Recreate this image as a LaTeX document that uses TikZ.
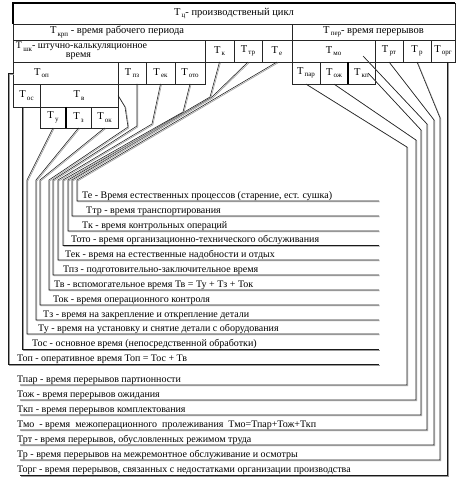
\documentclass[tikz,border=0pt]{standalone}
\usepackage{fontspec}
\setmainfont{Liberation Serif}
\usetikzlibrary{calc}
\newcommand\Tb[1]{Т\raisebox{-0.5ex}{\fontsize{7}{7}\selectfont\,#1}}
\newcommand\bx[6]{\node[box, minimum width={(#4-#2)*1pt}, minimum height={(#5-#3)*1pt}] (#1) at ({(#2+#4)/2},{(#3+#5)/2}) {#6};}
\begin{document}
\begin{tikzpicture}[x=1pt,y=-1pt,
  box/.style={draw=black!85, line width=0.6pt, rectangle, inner sep=0pt, outer sep=0pt, font=\fontsize{10.5}{10}\selectfont, align=center},
  conn/.style={draw=black!90, line width=0.55pt, preaction={draw=black!40, line width=0.55pt, transform canvas={shift={(0.9pt,-0.9pt)}}}},
  lab/.style={anchor=base west, inner sep=0pt, font=\fontsize{10}{10}\selectfont}]
\useasboundingbox (0,0) rectangle (456,481);
% ---- boxes ----
\bx{tc}{13}{3}{455}{24}{\Tb{ц}- производственый цикл}
\draw[black, line width=1.6pt] (tc.south west) -- (tc.north west) -- (tc.north east);
\bx{krp}{13}{24}{292}{40}{\makebox[275pt][l]{\hspace*{35pt}\Tb{крп} - время рабочего периода}}
\bx{per}{292}{24}{455}{40}{\Tb{пер}- время перерывов}
\bx{shk}{13}{40}{205}{62}{\parbox{186pt}{\fontsize{10}{8.5}\selectfont\Tb{шк}- штучно-калькуляционное\\\hspace*{50pt}время}}
\bx{k}{205}{40}{234}{62}{\Tb{к}}
\bx{tr}{234}{40}{262}{62}{\Tb{тр}}
\bx{e}{262}{40}{292}{62}{\Tb{е}}
\bx{mo}{292}{40}{375}{62}{\Tb{мо}}
\bx{rt}{375}{40}{403}{62}{\Tb{рт}}
\bx{rp}{403}{40}{431}{62}{\Tb{р}}
\bx{org}{431}{40}{455}{62}{\Tb{орг}}
\bx{op}{13}{62}{118}{84}{\makebox[101pt][l]{\hspace*{19pt}\Tb{оп}}}
\bx{pz}{118}{62}{146}{84}{\Tb{пз}}
\bx{ek}{146}{62}{175}{84}{\Tb{ек}}
\bx{oto}{175}{62}{205}{84}{\Tb{ото}}
\bx{par}{292}{62}{320}{84}{\Tb{пар}}
\bx{oj}{320}{62}{348}{84}{\Tb{ож}}
\bx{kp}{348}{62}{375}{84}{\Tb{кп}}
\bx{os}{13}{84}{40}{107}{\Tb{ос}}
\bx{v}{40}{84}{118}{107}{\Tb{в}}
\bx{u}{40}{107}{66}{128}{\Tb{у}}
\bx{z}{66}{107}{91}{128}{\Tb{з}}
\bx{ok}{91}{107}{118}{128}{\Tb{ок}}
\draw[black, line width=1.3pt] (u.north east) -- (u.south east);
\draw[black, line width=1.3pt] (oj.north east) -- (oj.south east);
% ---- left labels ----
\foreach \n/\xv/\yu/\xt/\txt in {
  le/77/201/82/{Те - Время естественных процессов (старение, ест. сушка)},
  ltr/72/216/86/{Ттр - время транспортирования},
  lk/68/231/82/{Тк - время контрольных операций},
  loto/63/245.5/71/{Тото - время организационно-технического обслуживания},
  lek/58/260/65/{Тек - время на естественные надобности и отдых},
  lpz/53/275/63/{Тпз - подготовительно-заключительное время},
  lv/49/290/54/{Тв - вспомогательное время Тв = Ту + Тз + Ток},
  lok/40/305/53/{Ток - время операционного контроля},
  lz/36/320/43/{Тз - время на закрепление и открепление детали},
  lu/27/334/38/{Ту - время на установку и снятие детали с оборудования},
  los/22/349/32/{Тос - основное время (непосредственной обработки)},
  lop/8/364/17/{Топ - оперативное время Топ = Тос + Тв}}{
  \coordinate (\n L) at (\xv,\yu);
  \coordinate (\n R) at (379,\yu);
  \node[lab] (\n) at (\xt,\yu-3) {\txt};
}
% ---- right labels ----
\foreach \n/\xv/\yu/\txt in {
  rpar/407/385/{Тпар - время перерывов партионности},
  roj/416/400/{Тож - время перерывов ожидания},
  rkp/421/415/{Ткп - время перерывов комплектования},
  rmo/427/430/{Тмо\ \ - время\ \ межоперационного\ \ пролеживания\ \ Тмо=Тпар+Тож+Ткп},
  rrt/434/445/{Трт - время перерывов, обусловленных режимом труда},
  rrp/440/460/{Тр - время перерывов на межремонтное обслуживание и осмотры},
  rorg/447/475/{Торг - время перерывов, связанных с недостатками организации производства}}{
  \coordinate (\n R) at (\xv,\yu);
  \coordinate (\n L) at (20,\yu);
  \node[lab] (\n) at (17,\yu-3) {\txt};
}
% ---- left connectors ----
\draw[conn] (e.south) -- (77,180) -- (leL) -- (leR);
\draw[conn] (tr.south) -- (212,97) -- (72,180) -- (ltrL) -- (ltrR);
\draw[conn] (k.south) -- (210,97) -- (68,180) -- (lkL) -- (lkR);
\draw[conn] (oto.south) -- (183,112) -- (63,180) -- (lotoL) -- (lotoR);
\draw[conn] (ek.south) -- (152,124) -- (58,180) -- (lekL) -- (lekR);
\coordinate (pzB) at (137,126);
\draw[conn] (pz.south -| pzB) -- (pzB) -- (53,180) -- (lpzL) -- (lpzR);
\draw[conn] (v.east) -- (125,107) -- (128,127) -- (49,180) -- (lvL) -- (lvR);
\draw[conn] (ok.south) -- (40,180) -- (lokL) -- (lokR);
\draw[conn] (z.south) -- (36,180) -- (lzL) -- (lzR);
\draw[conn] (u.south) -- (27,180) -- (luL) -- (luR);
\draw[conn] (os.south -| losL) -- (losL) -- (losR);
\draw[conn] (op.west) -- ++(-5,0) -- (lopL) -- (lopR);
% ---- right connectors ----
\draw[conn] (par.south) -- (407,147) -- (rparR) -- (rparL);
\draw[conn] (oj.south) -- (416,140) -- (rojR) -- (rojL);
\draw[conn] ($(kp.east)+(-7,0)$) -- (421,130) -- (rkpR) -- (rkpL);
\draw[conn] ($(mo.east)+(-12,5)$) -- (427,124) -- (rmoR) -- (rmoL);
\draw[conn] (rt.south) -- (434,120) -- (rrtR) -- (rrtL);
\draw[conn] (rp.south) -- (440,118) -- (rrpR) -- (rrpL);
\draw[conn] (org.south -| rorgR) -- (rorgR) -- (rorgL);
\end{tikzpicture}
\end{document}
